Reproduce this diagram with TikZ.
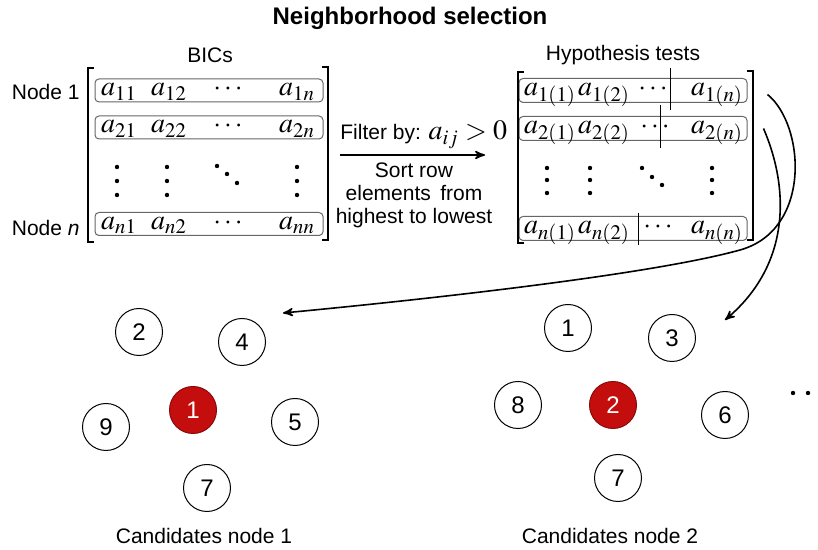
\documentclass[tikz,border=0pt]{standalone}
\usepackage{mathptmx}
\usepackage[no-math]{fontspec}
\setmainfont{Liberation Sans}
\usetikzlibrary{arrows}
\usetikzlibrary{positioning}

\definecolor{hubred}{RGB}{196,14,14}

\begin{document}
\begin{tikzpicture}[>=stealth', x=0.5pt, y=0.5pt]
    % Set primary nodes
    \tikzset{
        rowBox/.style={
                draw=black!60,
                rounded corners=2pt,
                line width=0.5pt,
                minimum width=114pt,
                minimum height=11.5pt
            }
    }
    \tikzset{
        entry/.style={
                inner sep=0pt,
                text height=8.5pt,
                text depth=3pt,
                font=\fontsize{14}{16}\selectfont
            }
    }
    \tikzset{
        dotNode/.style={
                circle,
                fill,
                inner sep=0pt,
                minimum size=2.2pt
            }
    }
    \tikzset{
        candNode/.style={
                draw,
                circle,
                line width=0.5pt,
                inner sep=0pt,
                minimum size=23.5pt,
                font=\fontsize{12}{14}\selectfont
            }
    }
    \tikzset{
        hubNode/.style={
                candNode,
                fill=hubred,
                draw=hubred!70!black,
                text=white
            }
    }
    \tikzset{
        txt/.style={
                inner sep=1pt,
                font=\fontsize{10.5}{12.5}\selectfont
            }
    }
    % Configure lines
    \tikzstyle{bracket} = [line width=0.9pt]
    \tikzstyle{cutLine} = [line width=0.5pt]
    \tikzstyle{arrow} = [line width=0.8pt, ->]
    \useasboundingbox (0,0) rectangle (818,550);
    % Placing nodes
    \node[font=\bfseries\fontsize{12}{14}\selectfont](title) at (410,532){Neighborhood selection};
    \node[txt](bics) at (210,495){BICs};
    \node[txt](hyp) at (623,495){Hypothesis tests};
    % BIC matrix
    \node[rowBox](bicRow1) at (209,459.5){};
    \node[rowBox](bicRow2) at (209,422.5){};
    \node[rowBox](bicRowN) at (209,326){};
    \node[txt, anchor=east](node1) at (82,458){Node 1};
    \node[txt, anchor=east](nodeN) at (82,322){Node \textit{n}};
    \node[entry](a11) at (119,459.5){$a_{11}$};
    \node[entry](a12) at (169,459.5){$a_{12}$};
    \node[entry](c1) at (228,459.5){$\cdots$};
    \node[entry](a1n) at (297,459.5){$a_{1n}$};
    \node[entry](a21) at (119,422.5){$a_{21}$};
    \node[entry](a22) at (169,422.5){$a_{22}$};
    \node[entry](c2) at (228,422.5){$\cdots$};
    \node[entry](a2n) at (297,422.5){$a_{2n}$};
    \node[entry](an1) at (119,326){$a_{n1}$};
    \node[entry](an2) at (169,326){$a_{n2}$};
    \node[entry](cn) at (228,326){$\cdots$};
    \node[entry](ann) at (297,326){$a_{nn}$};
    \foreach \px in {117,167,297} {
        \foreach \py in {383,369,355} {
            \node[dotNode] at (\px,\py){};
        }
    }
    \node[dotNode] at (217,384){};
    \node[dotNode] at (227,376){};
    \node[dotNode] at (237,367){};
    \draw[bracket] (94,482) -- (88,482) -- (88,308) -- (94,308);
    \draw[bracket] (322,483) -- (328,483) -- (328,310) -- (322,310);
    % Filter step
    \coordinate (filterStart) at (340,395);
    \coordinate (filterEnd) at (485,395);
    \node[txt, anchor=base west](filter) at (338,410){Filter by: {\fontsize{14}{16}\selectfont$a_{ij}>0$}};
    \node[txt, align=center, font=\fontsize{10.5}{11.5}\selectfont](sortText) at (414,355){Sort row\\elements\, from\\highest to lowest};
    % Hypothesis matrix
    \node[rowBox, minimum height=12pt](hypRow1) at (633,459.5){};
    \node[rowBox, minimum height=12pt](hypRow2) at (633,421.5){};
    \node[rowBox, minimum height=12pt](hypRowN) at (633,321.5){};
    \node[entry](b11) at (550,459.5){$a_{1(1)}$};
    \node[entry](b12) at (604,459.5){$a_{1(2)}$};
    \node[entry](d1) at (653,459.5){$\cdots$};
    \node[entry](b1n) at (717,459.5){$a_{1(n)}$};
    \node[entry](b21) at (550,421.5){$a_{2(1)}$};
    \node[entry](b22) at (604,421.5){$a_{2(2)}$};
    \node[entry](d2) at (655,421.5){$\cdots$};
    \node[entry](b2n) at (717,421.5){$a_{2(n)}$};
    \node[entry](bn1) at (550,321.5){$a_{n(1)}$};
    \node[entry](bn2) at (604,321.5){$a_{n(2)}$};
    \node[entry](dn) at (658,321.5){$\cdots$};
    \node[entry](bnn) at (717,321.5){$a_{n(n)}$};
    \foreach \px in {547,590,712} {
        \foreach \py in {382,370,357} {
            \node[dotNode] at (\px,\py){};
        }
    }
    \node[dotNode] at (642,382){};
    \node[dotNode] at (652,373){};
    \node[dotNode] at (662,365){};
    \draw[bracket] (524,478) -- (518,478) -- (518,307) -- (524,307);
    \draw[bracket] (747,479) -- (753,479) -- (753,310) -- (747,310);
    \draw[cutLine] (670,482) -- (670,440);
    \draw[cutLine] (660,445) -- (660,402);
    \draw[cutLine] (638,337) -- (638,305);
    % Candidates node 1
    \node[hubNode](hubA) at (193,140){1};
    \node[candNode](candA2) at (139,218){2};
    \node[candNode](candA4) at (242,208){4};
    \node[candNode](candA9) at (106,123){9};
    \node[candNode](candA5) at (295,128){5};
    \node[candNode](candA7) at (207,62){7};
    \node[txt](capA) at (204,14){Candidates node 1};
    % Candidates node 2
    \node[hubNode](hubB) at (613,145){2};
    \node[candNode](candB1) at (568,222){1};
    \node[candNode](candB3) at (672,212){3};
    \node[candNode](candB8) at (518,145){8};
    \node[candNode](candB6) at (725,135){6};
    \node[candNode](candB7) at (618,72){7};
    \node[txt](capB) at (610,14){Candidates node 2};
    \node[dotNode](moreA) at (793,157){};
    \node[dotNode](moreB) at (808,157){};
    % Draw arrows
    \coordinate[right=10pt of hypRow1, yshift=-2pt](outA);
    \coordinate[right=8pt of hypRow2](outB);
    \coordinate (inA) at (283,237);
    \coordinate (inB) at (725,230);
    \draw[arrow] (filterStart) -- (filterEnd);
    \draw[arrow] (outA) .. controls (805,425) and (812,320) .. (740,300) .. controls (650,275) and (420,250) .. (inA);
    \draw[arrow] (outB) .. controls (790,360) and (790,285) .. (inB);
\end{tikzpicture}
\end{document}
